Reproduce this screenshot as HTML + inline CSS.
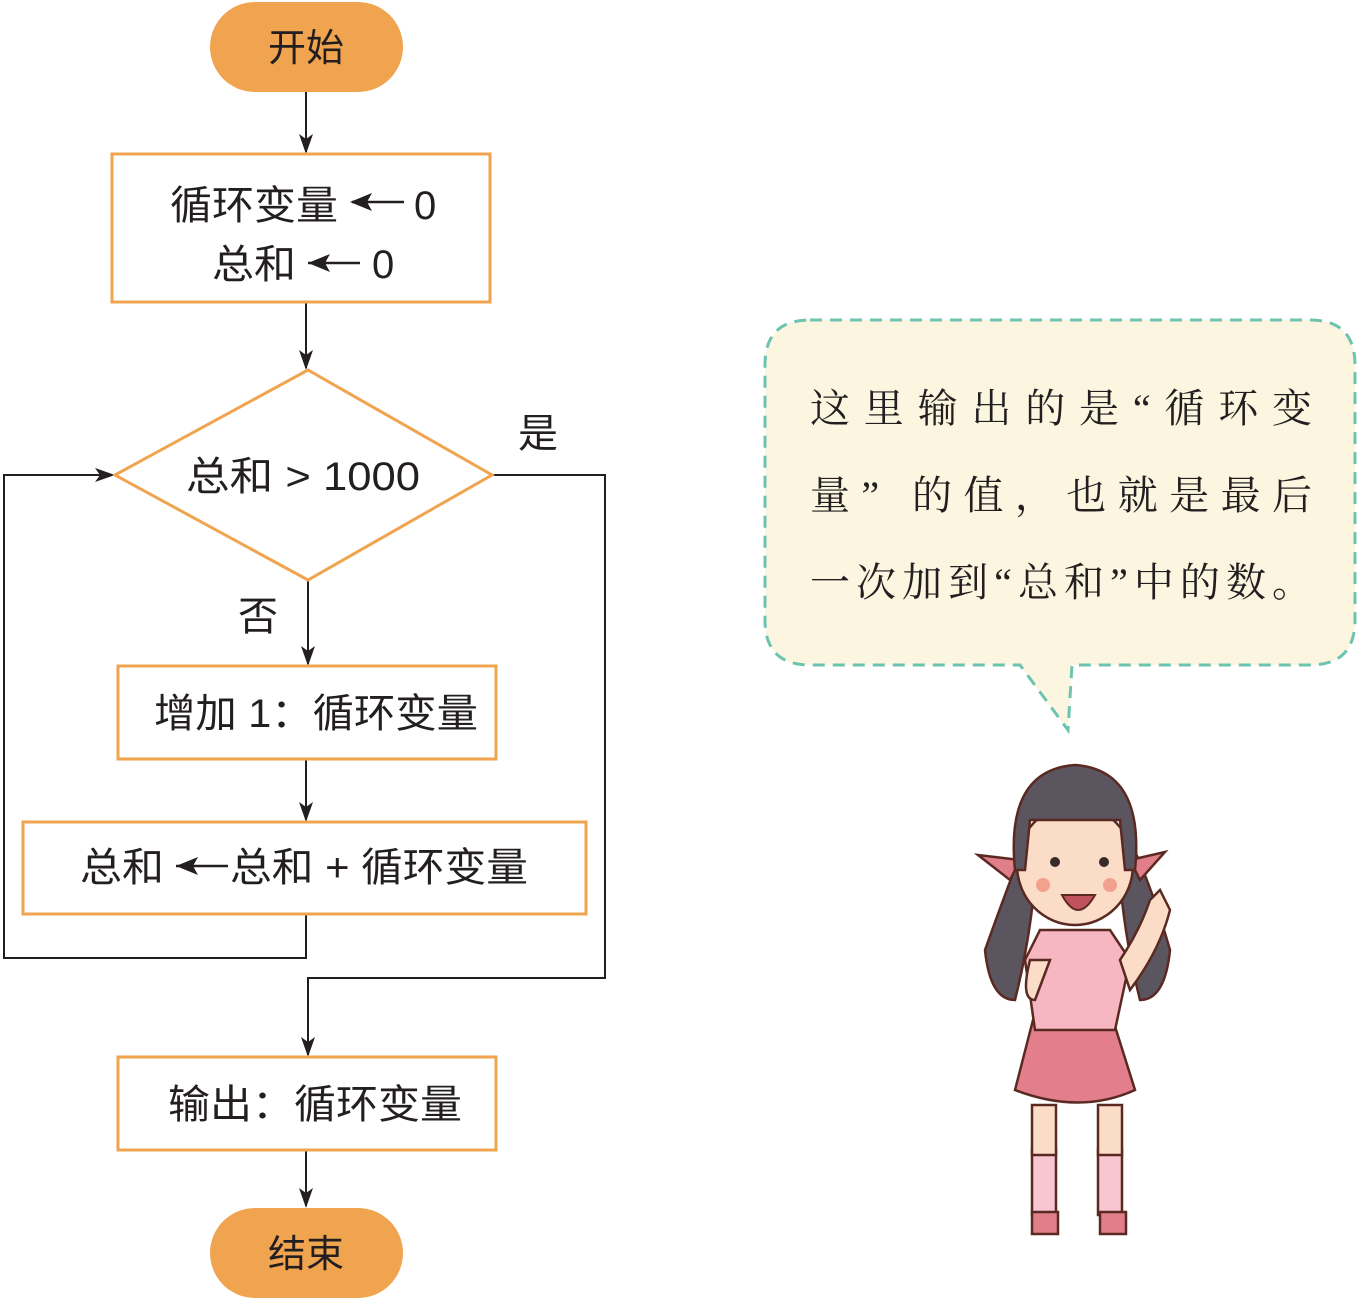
<!DOCTYPE html>
<html><head><meta charset="utf-8"><style>
html,body{margin:0;padding:0;background:#fff}
svg{display:block}
.s{font-family:"Liberation Sans","Noto Sans CJK SC",sans-serif;fill:#231f20}
.k{font-family:"Liberation Serif","Noto Serif CJK SC",serif;fill:#231f20}
</style></head><body>
<svg width="1359" height="1301" viewBox="0 0 1359 1301" xmlns="http://www.w3.org/2000/svg">
<defs>
<marker id="b" viewBox="0 0 20 20" markerWidth="20" markerHeight="20" refX="18" refY="10" orient="auto" markerUnits="userSpaceOnUse"><path d="M0,3 L20,10 L0,17 L5,10z" fill="#231f20"/></marker></defs>
<g stroke="#231f20" stroke-width="2" fill="none">
<line x1="306" y1="92" x2="306" y2="152" marker-end="url(#b)"/>
<line x1="306" y1="302" x2="306" y2="368" marker-end="url(#b)"/>
<line x1="308" y1="580" x2="308" y2="664" marker-end="url(#b)"/>
<line x1="306" y1="759" x2="306" y2="820" marker-end="url(#b)"/>
<polyline points="306,914 306,958 4,958 4,475 113,475" marker-end="url(#b)"/>
<polyline points="492,475 605,475 605,978 308,978 308,1055" marker-end="url(#b)"/>
<line x1="306" y1="1150" x2="306" y2="1206" marker-end="url(#b)"/>
</g>
<rect x="210" y="2" width="193" height="90" rx="45" fill="#f0a44f"/>
<text x="306" y="61" text-anchor="middle" class="s" font-size="38">开始</text>
<rect x="210" y="1208" width="193" height="90" rx="45" fill="#f0a44f"/>
<text x="306" y="1267" text-anchor="middle" class="s" font-size="38">结束</text>
<g fill="#fff" stroke="#f0a44f" stroke-width="3">
<rect x="112" y="154" width="378" height="148"/>
<polygon points="115,475 308,370 492,475 308,580"/>
<rect x="118" y="666" width="378" height="93"/>
<rect x="23" y="822" width="563" height="92"/>
<rect x="118" y="1057" width="378" height="93"/>
</g>
<g stroke="#231f20" stroke-width="2.5">
<line x1="352" y1="202" x2="404" y2="202"/>
<line x1="308" y1="263" x2="360" y2="263"/>
<line x1="176" y1="866" x2="228" y2="866"/>
</g>
<g fill="#231f20"><path d="M350,202 l22,-9 l-5,9 l5,9z"/><path d="M308,263 l22,-9 l-5,9 l5,9z"/><path d="M176,866 l22,-9 l-5,9 l5,9z"/></g>
<g class="s" font-size="40">
<text x="170" y="219" textLength="168" lengthAdjust="spacingAndGlyphs">循环变量</text><text x="414" y="219">0</text>
<text x="212" y="278" textLength="84" lengthAdjust="spacingAndGlyphs">总和</text><text x="372" y="278">0</text>
<text x="186" y="490" textLength="234" lengthAdjust="spacingAndGlyphs">总和 &gt; 1000</text>
<text x="518" y="447">是</text>
<text x="238" y="630">否</text>
<text x="154" y="727" textLength="324" lengthAdjust="spacingAndGlyphs">增加 1：循环变量</text>
<text x="80" y="881" textLength="84" lengthAdjust="spacingAndGlyphs">总和</text><text x="230" y="881" textLength="298" lengthAdjust="spacingAndGlyphs">总和 + 循环变量</text>
<text x="168" y="1118" textLength="294" lengthAdjust="spacingAndGlyphs">输出：循环变量</text>
</g>
<path d="M810,320 H1310 Q1355,320 1355,365 V620 Q1355,665 1310,665 H1072 L1068,730 L1020,665 H810 Q765,665 765,620 V365 Q765,320 810,320z" fill="#fcf5e0" stroke="#6cc4b0" stroke-width="3" stroke-dasharray="12,8"/>
<g class="k" font-size="40">
<text x="810" y="422" textLength="502" lengthAdjust="spacing">这里输出的是“循环变</text>
<text x="810" y="509" textLength="502" lengthAdjust="spacing">量” 的值，也就是最后</text>
<text x="810" y="596" textLength="502" lengthAdjust="spacing">一次加到“总和”中的数。</text>
</g>
<g stroke="#5a2a22" stroke-width="2.5">
<path d="M1030,830 Q1010,880 985,950 Q990,1000 1015,1000 Q1030,940 1035,880z" fill="#5b5560"/>
<path d="M1125,830 Q1150,880 1170,950 Q1165,1000 1140,1000 Q1125,940 1120,880z" fill="#5b5560"/>
<path d="M978,855 L1020,860 L1010,880z M1165,852 L1130,860 L1140,880z" fill="#e07f8a"/>
<rect x="1032" y="1150" width="24" height="65" fill="#f7c6d0"/>
<rect x="1098" y="1150" width="24" height="65" fill="#f7c6d0"/>
<rect x="1032" y="1105" width="24" height="50" fill="#fbdcc7"/>
<rect x="1098" y="1105" width="24" height="50" fill="#fbdcc7"/>
<path d="M1032,1212 h26 v22 h-26z M1100,1212 h26 v22 h-26z" fill="#e07f8a"/>
<path d="M1033,1020 L1113,1020 L1135,1090 Q1080,1115 1015,1090z" fill="#e37f8c"/>
<path d="M1040,930 L1110,930 L1130,960 L1115,1030 L1035,1030 L1025,960z" fill="#f6b6c2"/>
<path d="M1030,960 Q1020,1000 1035,1000 L1050,960z" fill="#fbdcc7"/>
<path d="M1120,960 Q1140,930 1150,900 L1160,890 L1170,910 Q1160,950 1130,990z" fill="#fbdcc7"/>
<ellipse cx="1075" cy="865" rx="58" ry="60" fill="#fbdcc7"/>
<path d="M1015,870 Q1005,770 1075,765 Q1145,770 1135,870 L1125,870 L1120,820 L1030,820 L1025,870z" fill="#5b5560"/>
</g>
<circle cx="1055" cy="862" r="5" fill="#3a2a2a"/><circle cx="1104" cy="862" r="5" fill="#3a2a2a"/>
<circle cx="1043" cy="885" r="7" fill="#f3a18e"/><circle cx="1110" cy="885" r="7" fill="#f3a18e"/>
<path d="M1062,895 Q1078,925 1095,895z" fill="#c0525e" stroke="#5a2a22" stroke-width="2"/>
</svg>
</body></html>
